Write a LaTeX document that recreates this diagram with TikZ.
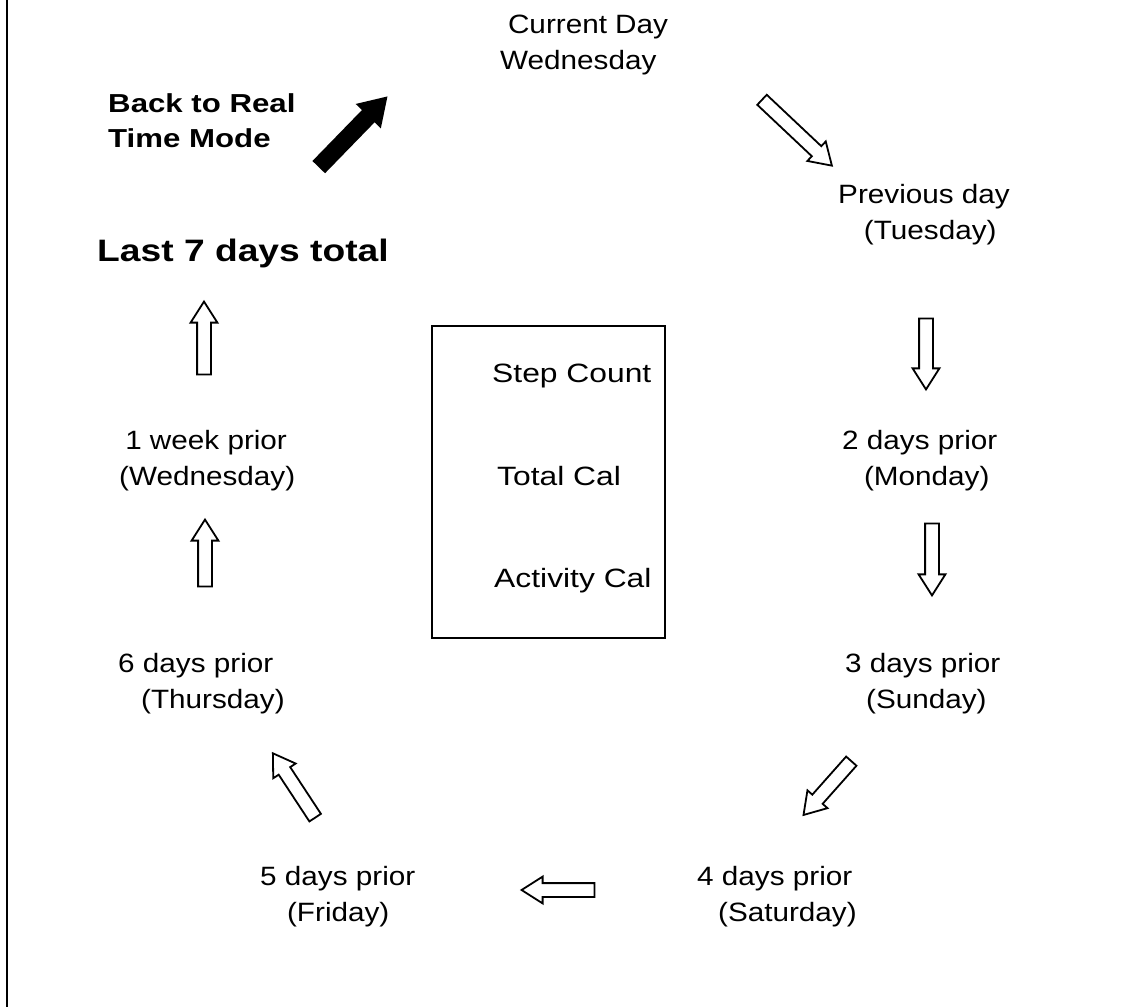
\documentclass[tikz,border=0pt]{standalone}
\usepackage{fontspec}
\setmainfont{Liberation Sans}
\usetikzlibrary{shapes.arrows,positioning}

\begin{document}
\begin{tikzpicture}[
x=1pt, y=-1pt,
day/.style={
  font=\fontsize{26.5}{36}\selectfont,
  align=left,
  anchor=base west,
  inner sep=0pt,
  xscale=1.12
  },
heading/.style={
  day,
  xscale=1.2/1.12,
  font=\fontsize{26}{35}\selectfont\bfseries
  },
hollow/.style={
  single arrow,
  draw,
  line width=1.8pt,
  inner xsep=0pt,
  inner ysep=6pt,
  minimum width=0pt,
  single arrow head extend=6.5pt,
  single arrow tip angle=65
  },
panel/.style={
  draw,
  line width=1.5pt,
  minimum width=233pt,
  minimum height=312pt
  }
]
\useasboundingbox (0,0) rectangle (1128,1007);
\draw[line width=2pt] (7,0) -- (7,1007);

% days round the circle
\node[day] (cur) at (500,69) {\hspace*{7pt}Current Day\\Wednesday};
\node[day] (prev) at (838,239) {Previous day\\\hspace*{23pt}(Tuesday)};
\node[day] (d2) at (842,485) {2 days prior\\\hspace*{19.5pt}(Monday)};
\node[day] (d3) at (845,708) {3 days prior\\\hspace*{18.7pt}(Sunday)};
\node[day] (d4) at (697,921) {4 days prior\\\hspace*{18.7pt}(Saturday)};
\node[day] (d5) at (260,921) {5 days prior\\\hspace*{24pt}(Friday)};
\node[day] (d6) at (118,708) {6 days prior\\\hspace*{20.5pt}(Thursday)};
\node[day] (wk) at (119,485) {\hspace*{5.4pt}1 week prior\\(Wednesday)};
\node[heading, font=\fontsize{31}{37}\selectfont\bfseries] (last) at (97,261) {Last 7 days total};
\node[heading] (back) at (108,147) {Back to Real\\Time Mode};

% centre box
\node[panel] (box) at (548.5,482) {};
\node[day, xscale=1.2/1.12] (steps) at (492,382) {Step Count};
\node[day, xscale=1.2/1.12] (total) at (497,485) {Total Cal};
\node[day, xscale=1.2/1.12] (activity) at (494,587) {Activity Cal};

% arrows
\foreach \px/\py/\ang/\len [count=\i] in {793/129/-43.3/96, 926/348.5/-90/71, 932/554/-90/72, 831/784/-131.6/72, 563.5/890/180/73, 297/790/123.3/77, 205/558.5/90/67, 204/343.5/90/73}
  \node[hollow, rotate=\ang, minimum height=\len pt] (arr\i) at (\px,\py) {};

\node[hollow, fill=black, rotate=45.8, minimum height=96pt, inner ysep=7pt, single arrow head extend=8pt] (toreal) at (348.5,136.5) {};
\end{tikzpicture}
\end{document}
